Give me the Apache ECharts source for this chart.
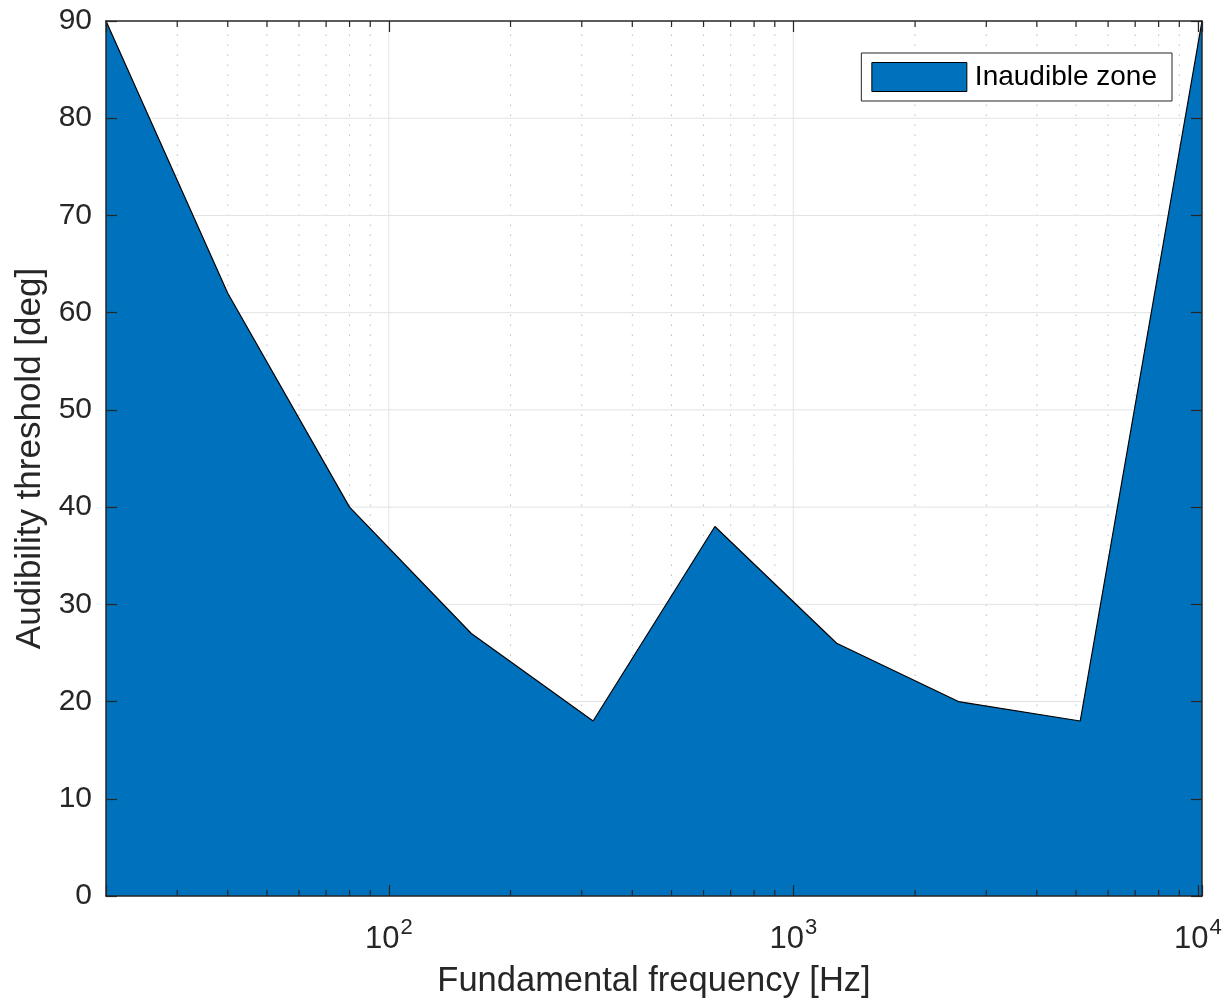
<!DOCTYPE html>
<html>
<head>
<meta charset="utf-8">
<title>Audibility threshold</title>
<script src="https://cdn.jsdelivr.net/npm/echarts@6/dist/echarts.min.js"></script>
<style>
  html, body { margin: 0; padding: 0; background: #fff; }
  #chart { width: 1229px; height: 1008px; }
</style>
</head>
<body>
<div id="chart"></div>
<script>
// Fundamental frequencies (Hz) and the audibility threshold (deg) at each
const frequencies = [20, 40, 80, 160, 320, 640, 1280, 2560, 5120, 10240];
const thresholds  = [90, 62, 40, 27, 18, 38, 26, 20, 18, 90];

// Axis ranges and tick positions
const xMin = 20, xMax = 10240;
const yMin = 0, yMax = 90, yStep = 10;
const majorX = [100, 1000, 10000];
const minorX = [30, 40, 50, 60, 70, 80, 90,
                200, 300, 400, 500, 600, 700, 800, 900,
                2000, 3000, 4000, 5000, 6000, 7000, 8000, 9000];
const gridY = [10, 20, 30, 40, 50, 60, 70, 80];

const FONT = '"Liberation Sans", Arial, Helvetica, sans-serif';
const INK = '#262626';
const FILL = '#0072BD';

const chart = echarts.init(document.getElementById('chart'), null, { renderer: 'canvas' });

function vertical(style) {
  return function (params, api) {
    const x = api.value(0);
    const b = api.coord([x, yMin]);
    const t = api.coord([x, yMax]);
    return { type: 'line', shape: { x1: b[0], y1: b[1], x2: t[0], y2: t[1] }, style: style };
  };
}

function horizontal(params, api) {
  const y = api.value(1);
  const l = api.coord([xMin, y]);
  const r = api.coord([xMax, y]);
  return { type: 'line', shape: { x1: l[0], y1: l[1], x2: r[0], y2: r[1] },
           style: { stroke: '#e3e3e3', lineWidth: 1 } };
}

// short minor ticks pointing inward from the bottom and top frame
function minorTick(params, api) {
  const x = api.value(0);
  const b = api.coord([x, yMin]);
  const t = api.coord([x, yMax]);
  const len = 6;
  const st = { stroke: INK, lineWidth: 1.2 };
  return {
    type: 'group',
    children: [
      { type: 'line', shape: { x1: b[0], y1: b[1], x2: b[0], y2: b[1] - len }, style: st },
      { type: 'line', shape: { x1: t[0], y1: t[1], x2: t[0], y2: t[1] + len }, style: st }
    ]
  };
}

function powerLabel(v) {
  const e = Math.log10(v);
  if (Math.abs(e - Math.round(e)) > 1e-9) return '';
  return '{b|10}{s|' + Math.round(e) + '}';
}

const frameAxis = {
  axisLine: { show: true, onZero: false, lineStyle: { color: INK, width: 1.5 } },
  axisTick: { show: true, inside: true, length: 11, lineStyle: { color: INK, width: 1.2 } },
  splitLine: { show: false },
  z: 10
};

chart.setOption({
  animation: false,
  backgroundColor: '#fff',
  textStyle: { fontFamily: FONT },
  grid: { left: 106, right: 27, top: 21, bottom: 112, containLabel: false },
  legend: {
    data: [{ name: 'Inaudible zone', icon: 'rect',
             itemStyle: { color: FILL, borderColor: '#000', borderWidth: 1 } }],
    right: 57, top: 53,
    orient: 'vertical',
    padding: [9, 15, 9, 10],
    itemWidth: 95, itemHeight: 29,
    backgroundColor: '#fff',
    borderColor: INK, borderWidth: 1, borderRadius: 0,
    textStyle: { fontFamily: FONT, fontSize: 28, color: '#000', padding: [0, 0, 0, 3] }
  },
  xAxis: [
    Object.assign({}, frameAxis, {
      type: 'log', logBase: 10, min: xMin, max: xMax, position: 'bottom',
      name: 'Fundamental frequency [Hz]', nameLocation: 'middle', nameGap: 68,
      nameMoveOverlap: false,
      nameTextStyle: { fontFamily: FONT, fontSize: 34.5, color: INK },
      axisLabel: {
        show: true, margin: 21, color: INK, fontFamily: FONT,
        formatter: powerLabel,
        rich: {
          b: { fontSize: 31, color: INK, fontFamily: FONT, verticalAlign: 'bottom' },
          s: { fontSize: 22, color: INK, fontFamily: FONT, verticalAlign: 'top', padding: [0, 0, 16, 1] }
        }
      }
    }),
    Object.assign({}, frameAxis, {
      type: 'log', logBase: 10, min: xMin, max: xMax, position: 'top',
      axisLabel: { show: false }
    })
  ],
  yAxis: [
    Object.assign({}, frameAxis, {
      type: 'value', min: yMin, max: yMax, interval: yStep, position: 'left',
      name: 'Audibility threshold [deg]', nameLocation: 'middle', nameGap: 58,
      nameTextStyle: { fontFamily: FONT, fontSize: 35, color: INK },
      axisLabel: { show: true, margin: 14, fontSize: 30, color: INK, fontFamily: FONT }
    }),
    Object.assign({}, frameAxis, {
      type: 'value', min: yMin, max: yMax, interval: yStep, position: 'right',
      axisLabel: { show: false }
    })
  ],
  series: [
    {
      name: 'minor grid', type: 'custom', z: 1, silent: true,
      xAxisIndex: 0, yAxisIndex: 0,
      renderItem: vertical({ stroke: '#bdbdbd', lineWidth: 1, lineDash: [1.5, 8.5] }),
      data: minorX.map(v => [v, yMin])
    },
    {
      name: 'major grid x', type: 'custom', z: 1, silent: true,
      xAxisIndex: 0, yAxisIndex: 0,
      renderItem: vertical({ stroke: '#e3e3e3', lineWidth: 1 }),
      data: majorX.map(v => [v, yMin])
    },
    {
      name: 'major grid y', type: 'custom', z: 1, silent: true,
      xAxisIndex: 0, yAxisIndex: 0,
      renderItem: horizontal,
      data: gridY.map(v => [xMin, v])
    },
    {
      name: 'Inaudible zone', type: 'line', z: 3,
      xAxisIndex: 0, yAxisIndex: 0,
      data: frequencies.map((f, i) => [f, thresholds[i]]),
      showSymbol: false, symbol: 'none',
      lineStyle: { color: '#000', width: 1.2 },
      itemStyle: { color: FILL },
      areaStyle: { color: FILL, opacity: 1 }
    },
    {
      name: 'minor ticks', type: 'custom', z: 12, silent: true,
      xAxisIndex: 0, yAxisIndex: 0,
      renderItem: minorTick,
      data: minorX.map(v => [v, yMin])
    }
  ]
});
</script>
</body>
</html>
